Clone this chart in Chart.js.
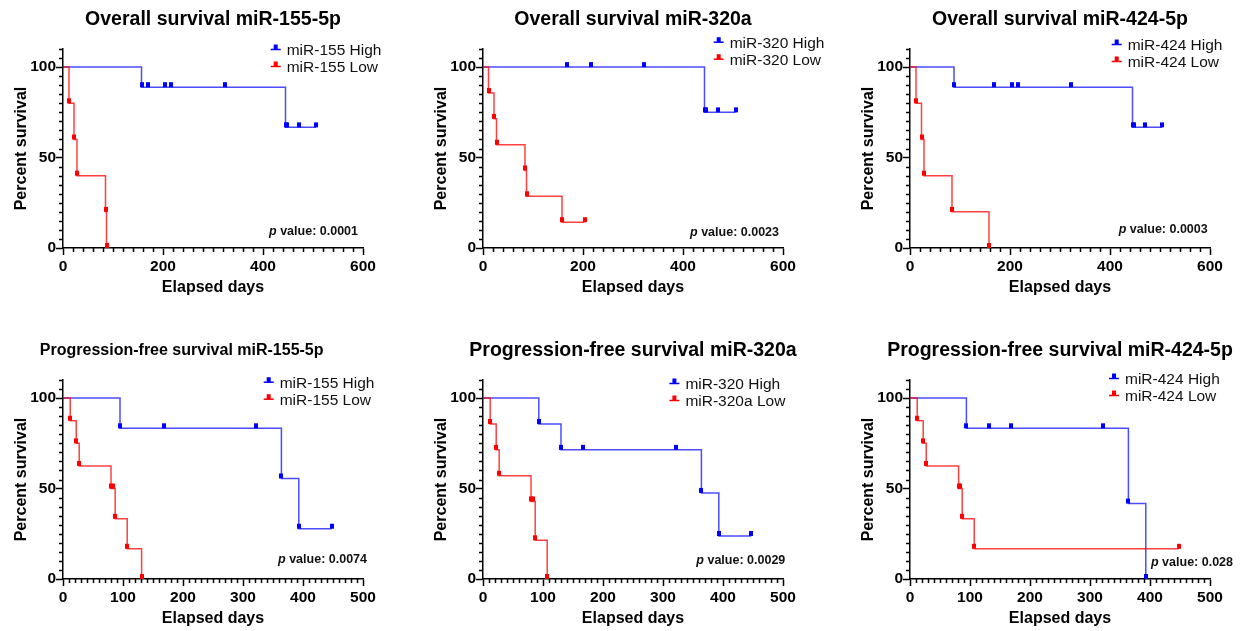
<!DOCTYPE html>
<html>
<head>
<meta charset="utf-8">
<script src="https://cdn.jsdelivr.net/npm/chart.js@4.4.0/dist/chart.umd.min.js"></script>
<style>
  body { margin: 0; background: #fff; overflow: hidden; width: 1245px; height: 631px; position: relative; }
  canvas { position: absolute; }
</style>
</head>
<body>
<canvas id="c0"></canvas>
<canvas id="c1"></canvas>
<canvas id="c2"></canvas>
<canvas id="c3"></canvas>
<canvas id="c4"></canvas>
<canvas id="c5"></canvas>
<script>
// ---- data (days, percent survival) ----
const os155HighDays = [0, 157, 170, 203, 215, 323, 445, 448, 472, 506];
const os155HighPct  = [100, 88.9, 88.9, 88.9, 88.9, 88.9, 66.7, 66.7, 66.7, 66.7];
const os155LowDays  = [0, 12, 22, 28, 85, 87];
const os155LowPct   = [100, 80, 60, 40, 20, 0];

const os320HighDays = [0, 168, 215, 321, 443, 446, 470, 505];
const os320HighPct  = [100, 100, 100, 100, 75, 75, 75, 75];
const os320LowDays  = [0, 11, 22, 27, 84, 87, 158, 203];
const os320LowPct   = [100, 85.7, 71.4, 57.1, 42.9, 28.6, 14.3, 14.3];

const os424HighDays = [0, 88, 167, 203, 215, 322, 445, 448, 470, 504];
const os424HighPct  = [100, 88.9, 88.9, 88.9, 88.9, 88.9, 66.7, 66.7, 66.7, 66.7];
const os424LowDays  = [0, 12, 23, 28, 84, 158];
const os424LowPct   = [100, 80, 60, 40, 20, 0];

const pfs155HighDays = [0, 95, 169, 322, 364, 393, 448];
const pfs155HighPct  = [100, 83.3, 83.3, 83.3, 55.6, 27.8, 27.8];
const pfs155LowDays  = [0, 12, 22, 27, 80, 83, 87, 107, 131];
const pfs155LowPct   = [100, 87.5, 75, 62.5, 50, 50, 33.3, 16.7, 0];

const pfs320HighDays = [0, 93, 130, 167, 322, 364, 393, 447];
const pfs320HighPct  = [100, 85.7, 71.4, 71.4, 71.4, 47.6, 23.8, 23.8];
const pfs320LowDays  = [0, 12, 22, 27, 80, 83, 87, 107];
const pfs320LowPct   = [100, 85.7, 71.4, 57.1, 42.9, 42.9, 21.4, 0];

const pfs424HighDays = [0, 94, 131, 168, 322, 364, 393];
const pfs424HighPct  = [100, 83.3, 83.3, 83.3, 83.3, 41.7, 0];
const pfs424LowDays  = [0, 12, 22, 27, 81, 84, 87, 107, 448];
const pfs424LowPct   = [100, 87.5, 75, 62.5, 50, 50, 33.3, 16.7, 16.7];

const titles = [
  'Overall survival miR-155-5p', 'Overall survival miR-320a', 'Overall survival miR-424-5p',
  'Progression-free survival miR-155-5p', 'Progression-free survival miR-320a', 'Progression-free survival miR-424-5p'
];
const highLabels = ['miR-155 High', 'miR-320 High', 'miR-424 High', 'miR-155 High', 'miR-320 High', 'miR-424 High'];
const lowLabels  = ['miR-155 Low', 'miR-320 Low', 'miR-424 Low', 'miR-155 Low', 'miR-320a Low', 'miR-424 Low'];
const pValues    = ['0.0001', '0.0023', '0.0003', '0.0074', '0.0029', '0.028'];
const xMax       = [600, 600, 600, 500, 500, 500];
const xStep      = [20, 20, 20, 10, 10, 10];
const xLabelStep = [200, 200, 200, 100, 100, 100];
const yTickStep = 5;

const highSeries = [
  [os155HighDays, os155HighPct], [os320HighDays, os320HighPct], [os424HighDays, os424HighPct],
  [pfs155HighDays, pfs155HighPct], [pfs320HighDays, pfs320HighPct], [pfs424HighDays, pfs424HighPct]
];
const lowSeries = [
  [os155LowDays, os155LowPct], [os320LowDays, os320LowPct], [os424LowDays, os424LowPct],
  [pfs155LowDays, pfs155LowPct], [pfs320LowDays, pfs320LowPct], [pfs424LowDays, pfs424LowPct]
];

// ---- layout ----
const FONT = '"Liberation Sans", Arial, Helvetica, sans-serif';
Chart.defaults.font.family = FONT;
const panels = [
  { left: 0,   top: 0,   width: 415, titleSize: 19.5, titleDx: 0,     legendX: 223.7, legendY: 2,    pRight: -5,   pY: -16 },
  { left: 420, top: 0,   width: 415, titleSize: 19.5, titleDx: 0,     legendX: 246.7, legendY: -5.3, pRight: -4,   pY: -15.7 },
  { left: 847, top: 0,   width: 398, titleSize: 19.5, titleDx: 0,     legendX: 217.7, legendY: -3,   pRight: -2.3, pY: -18 },
  { left: 0,   top: 331, width: 415, titleSize: 16,   titleDx: -31.3, legendX: 216.7, legendY: 3.7,  pRight: 4,    pY: -19.4 },
  { left: 420, top: 331, width: 415, titleSize: 19.5, titleDx: 0,     legendX: 202.4, legendY: 5,    pRight: 2.3,  pY: -18.7 },
  { left: 847, top: 331, width: 398, titleSize: 19.5, titleDx: 0,     legendX: 215,   legendY: 0,    pRight: 23,   pY: -16.4 }
];
const BLUE = '#0000ff', RED = '#ff0000';

function markImg(color) {
  const c = document.createElement('canvas');
  c.width = 4; c.height = 12;
  const g = c.getContext('2d');
  g.fillStyle = color;
  g.fillRect(0, 1, 4, 5);
  return c;
}

function curve(series, color, lineColor) {
  const [days, pct] = series;
  return {
    data: days.map((d, i) => ({ x: d, y: pct[i] })),
    stepped: 'before',
    borderColor: lineColor,
    borderWidth: 1.5,
    fill: false,
    pointStyle: markImg(color),
    pointRadius: c => c.dataIndex === 0 ? 0 : 3,
    pointHoverRadius: c => c.dataIndex === 0 ? 0 : 3
  };
}

const majorTickColor = c => (c.tick && c.tick.label !== '') ? '#000' : 'rgba(0,0,0,0)';

const extras = {
  id: 'extras',
  afterDraw(chart) {
    const i = chart.options.plugins.extras.idx;
    const p = panels[i];
    const { ctx, chartArea: a, scales } = chart;
    ctx.save();

    // title
    ctx.fillStyle = '#000';
    ctx.font = 'bold ' + p.titleSize + 'px ' + FONT;
    ctx.textAlign = 'center';
    ctx.textBaseline = 'middle';
    ctx.fillText(titles[i], (a.left + a.right) / 2 + p.titleDx, 20);

    // minor ticks
    ctx.strokeStyle = '#000';
    ctx.lineWidth = 1.5;
    ctx.beginPath();
    scales.x.ticks.forEach(t => {
      if (t.label !== '') return;
      const px = Math.round(scales.x.getPixelForValue(t.value)) + 0.5;
      ctx.moveTo(px, a.bottom); ctx.lineTo(px, a.bottom + 4);
    });
    scales.y.ticks.forEach(t => {
      if (t.label !== '') return;
      const py = Math.round(scales.y.getPixelForValue(t.value)) + 0.5;
      ctx.moveTo(a.left, py); ctx.lineTo(a.left - 4, py);
    });
    ctx.stroke();

    // legend
    const items = [[highLabels[i], BLUE], [lowLabels[i], RED]];
    ctx.font = '15.5px ' + FONT;
    ctx.textAlign = 'left';
    items.forEach(([txt, col], k) => {
      const tx = a.left + p.legendX;
      const ty = a.top + p.legendY + k * 17;
      ctx.strokeStyle = col;
      ctx.lineWidth = 1.5;
      ctx.beginPath();
      ctx.moveTo(tx - 16, ty - 1.5); ctx.lineTo(tx - 6, ty - 1.5);
      ctx.stroke();
      ctx.fillStyle = col;
      ctx.fillRect(tx - 13, ty - 6.5, 4, 5);
      ctx.fillStyle = '#111';
      ctx.fillText(txt, tx, ty);
    });

    // p value
    const fItal = 'italic bold 12.5px ' + FONT;
    const fBold = 'bold 12.5px ' + FONT;
    const rest = ' value: ' + pValues[i];
    ctx.font = fItal; const w1 = ctx.measureText('p').width;
    ctx.font = fBold; const w2 = ctx.measureText(rest).width;
    const x0 = a.right + p.pRight - w1 - w2;
    const y0 = a.bottom + p.pY;
    ctx.fillStyle = '#111';
    ctx.font = fItal; ctx.fillText('p', x0, y0);
    ctx.font = fBold; ctx.fillText(rest, x0 + w1, y0);
    ctx.restore();
  }
};

panels.forEach((p, i) => {
  const cv = document.getElementById('c' + i);
  cv.width = p.width; cv.height = 300;
  cv.style.left = p.left + 'px'; cv.style.top = p.top + 'px';
  cv.style.width = p.width + 'px'; cv.style.height = '300px';

  new Chart(cv, {
    type: 'line',
    data: {
      datasets: [
        curve(lowSeries[i], RED, 'rgba(255,0,0,0.75)'),
        curve(highSeries[i], BLUE, 'rgba(0,0,255,0.7)')
      ]
    },
    plugins: [extras],
    options: {
      responsive: false,
      animation: false,
      events: [],
      layout: { padding: { left: 0, top: 49, right: p.width - 363, bottom: 0 } },
      plugins: {
        legend: { display: false },
        tooltip: { enabled: false },
        title: { display: false },
        extras: { idx: i }
      },
      scales: {
        x: {
          type: 'linear', min: 0, max: xMax[i],
          afterFit: s => { s.height = 52; },
          ticks: {
            stepSize: xStep[i], autoSkip: false, maxRotation: 0, padding: 2,
            color: '#000', font: { size: 15.5, weight: 'bold' },
            callback: v => v % xLabelStep[i] === 0 ? String(v) : ''
          },
          grid: { drawOnChartArea: false, tickLength: 7, tickWidth: 1.5, tickColor: majorTickColor },
          border: { color: '#000', width: 1.5 },
          title: {
            display: true, text: 'Elapsed days', color: '#000',
            font: { size: 16, weight: 'bold' }, padding: { top: 0, bottom: 3 }
          }
        },
        y: {
          min: 0, max: 110,
          afterFit: s => { s.width = 63; },
          ticks: {
            stepSize: yTickStep, autoSkip: false, padding: 0,
            color: '#000', font: { size: 15.5, weight: 'bold' },
            callback: v => (v % 50 === 0 && v <= 100) ? String(v) : ''
          },
          grid: { drawOnChartArea: false, tickLength: 7, tickWidth: 1.5, tickColor: majorTickColor },
          border: { color: '#000', width: 1.5 },
          title: {
            display: true, text: 'Percent survival', color: '#000',
            font: { size: 16, weight: 'bold' }, padding: { top: 12, bottom: 0 }
          }
        }
      }
    }
  });
});
</script>
</body>
</html>
